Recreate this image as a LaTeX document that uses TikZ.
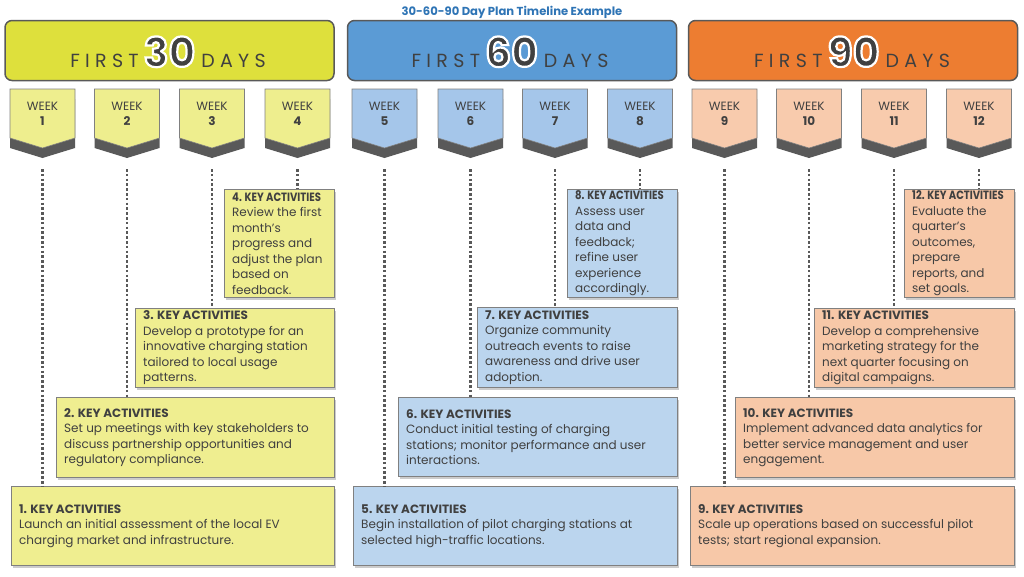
\documentclass[tikz,border=0pt]{standalone}
\usepackage{fontspec}
\setmainfont{Poppins}
\usetikzlibrary{shadows}
\definecolor{hdY}{HTML}{DEE03C}
\definecolor{tabY}{HTML}{EEEE8E}
\definecolor{boxY}{HTML}{EFEE90}
\definecolor{hdB}{HTML}{5B9BD5}
\definecolor{tabB}{HTML}{A5C6EA}
\definecolor{boxB}{HTML}{BBD5EE}
\definecolor{hdO}{HTML}{ED7D31}
\definecolor{tabO}{HTML}{F8CBAD}
\definecolor{boxO}{HTML}{F7C8A8}
\definecolor{darkg}{HTML}{595959}
\definecolor{txt}{HTML}{404040}
\definecolor{ttl}{HTML}{2E74B5}
\newcommand{\outlined}[1]{\special{pdf:literal direct 2 Tr 2.2 w 1 1 1 RG}#1\special{pdf:literal direct 0 Tr}}
\newcommand{\hdtext}[1]{{\fontsize{19}{19}\selectfont\addfontfeature{LetterSpace=28}FIRST}\hspace{5pt}{\fontsize{41}{41}\selectfont\bfseries\outlined{#1}}\hspace{6pt}{\fontsize{19}{19}\selectfont\addfontfeature{LetterSpace=28}DAYS}}
\tikzset{
  hdr/.style={draw=darkg,line width=1.5pt,rounded corners=7pt,minimum width=329pt,minimum height=60pt},
  hdtxt/.style={anchor=base,text=txt,inner sep=0pt},
  tabx/.style={draw=gray,line width=0.6pt},
  wk/.style={font=\fontsize{12}{15}\selectfont,text=txt,align=center},
  bx/.style={draw=gray,line width=0.8pt,anchor=north west,inner sep=0pt,
    drop shadow={shadow xshift=2pt,shadow yshift=-2.5pt,opacity=0.4}},
  tx/.style={anchor=west,align=left,text=txt,inner sep=0pt,font=\fontsize{12}{15.5}\selectfont},
  dotline/.style={draw=darkg,line width=2.6pt,dash pattern=on 2.5pt off 2.3pt}
}
\begin{document}
\begin{tikzpicture}[x=1pt,y=-1pt]
\useasboundingbox (0,0) rectangle (1024,576);
\node[font=\bfseries\fontsize{11.6}{14}\selectfont,text=ttl] (title) at (512,12) {30-60-90 Day Plan Timeline Example};
\node[hdr,fill=hdY] (hd30) at (169.5,50.5) {};
\node[hdr,fill=hdB] (hd60) at (512,50.5) {};
\node[hdr,fill=hdO] (hd90) at (853,50.5) {};
\node[hdtxt] (ht30) at (168,67) {\hdtext{30}};
\node[hdtxt] (ht60) at (510,67) {\hdtext{60}};
\node[hdtxt] (ht90) at (852,67) {\hdtext{90}};
\foreach \n/\cx/\fc in {1/42.5/tabY,2/127/tabY,3/212/tabY,4/297.5/tabY,5/384.5/tabB,6/470.5/tabB,7/555/tabB,8/640/tabB,9/724.5/tabO,10/809/tabO,11/894/tabO,12/979/tabO}{
  \fill[darkg] (\cx-32.5,99) -- (\cx+32.5,99) -- (\cx+32.5,148) -- (\cx,158) -- (\cx-32.5,148) -- cycle;
  \draw[tabx,fill=\fc] (\cx-32.5,89) -- (\cx+32.5,89) -- (\cx+32.5,138) -- (\cx,148) -- (\cx-32.5,138) -- cycle;
  \node[wk] (wk\n) at (\cx,113.5) {WEEK\\\textbf{\n}};
  \coordinate (tip\n) at (\cx,169);
}
% first 30 days
\node[bx,fill=boxY,minimum width=323pt,minimum height=79pt] (bx1) at (11,486) {};
\node[bx,fill=boxY,minimum width=278pt,minimum height=80pt] (bx2) at (56,397) {};
\node[bx,fill=boxY,minimum width=199pt,minimum height=79pt] (bx3) at (135,308) {};
\node[bx,fill=boxY,minimum width=110pt,minimum height=108pt] (bx4) at (224,189) {};
\node[tx] (tx1) at ([xshift=8pt]bx1.west) {\textbf{1. KEY ACTIVITIES}\\Launch an initial assessment of the local EV\\charging market and infrastructure.};
\node[tx] (tx2) at ([xshift=8pt]bx2.west) {\textbf{2. KEY ACTIVITIES}\\Set up meetings with key stakeholders to\\discuss partnership opportunities and\\regulatory compliance.};
\node[tx] (tx3) at ([xshift=8pt]bx3.west) {\textbf{3. KEY ACTIVITIES}\\Develop a prototype for an\\innovative charging station\\tailored to local usage\\patterns.};
\node[tx] (tx4) at ([xshift=8pt]bx4.west) {\scalebox{0.84}[1]{\textbf{4. KEY ACTIVITIES}}\\Review the first\\month’s\\progress and\\adjust the plan\\based on\\feedback.};
% first 60 days
\node[bx,fill=boxB,minimum width=324pt,minimum height=79pt] (bx5) at (353,486) {};
\node[bx,fill=boxB,minimum width=279pt,minimum height=79pt] (bx6) at (398,397) {};
\node[bx,fill=boxB,minimum width=200pt,minimum height=80pt] (bx7) at (477,307) {};
\node[bx,fill=boxB,minimum width=110pt,minimum height=108pt] (bx8) at (567,189) {};
\node[tx] (tx5) at ([xshift=8pt]bx5.west) {\textbf{5. KEY ACTIVITIES}\\Begin installation of pilot charging stations at\\selected high-traffic locations.};
\node[tx] (tx6) at ([xshift=8pt]bx6.west) {\textbf{6. KEY ACTIVITIES}\\Conduct initial testing of charging\\stations; monitor performance and user\\interactions.};
\node[tx] (tx7) at ([xshift=8pt]bx7.west) {\textbf{7. KEY ACTIVITIES}\\Organize community\\outreach events to raise\\awareness and drive user\\adoption.};
\node[tx] (tx8) at ([xshift=8pt]bx8.west) {\scalebox{0.84}[1]{\textbf{8. KEY ACTIVITIES}}\\Assess user\\data and\\feedback;\\refine user\\experience\\accordingly.};
% first 90 days
\node[bx,fill=boxO,minimum width=324pt,minimum height=79pt] (bx9) at (690,486) {};
\node[bx,fill=boxO,minimum width=279pt,minimum height=80pt] (bx10) at (735,397) {};
\node[bx,fill=boxO,minimum width=200pt,minimum height=79pt] (bx11) at (814,308) {};
\node[bx,fill=boxO,minimum width=110pt,minimum height=108pt] (bx12) at (904,189) {};
\node[tx] (tx9) at ([xshift=8pt]bx9.west) {\textbf{9. KEY ACTIVITIES}\\Scale up operations based on successful pilot\\tests; start regional expansion.};
\node[tx] (tx10) at ([xshift=8pt]bx10.west) {\textbf{10. KEY ACTIVITIES}\\Implement advanced data analytics for\\better service management and user\\engagement.};
\node[tx] (tx11) at ([xshift=8pt]bx11.west) {\textbf{11. KEY ACTIVITIES}\\Develop a comprehensive\\marketing strategy for the\\next quarter focusing on\\digital campaigns.};
\node[tx] (tx12) at ([xshift=8pt]bx12.west) {\scalebox{0.84}[1]{\textbf{12. KEY ACTIVITIES}}\\Evaluate the\\quarter's\\outcomes,\\prepare\\reports, and\\set goals.};
\foreach \n in {1,...,12}
  \draw[dotline] (tip\n) -- (tip\n |- bx\n.north);
\end{tikzpicture}
\end{document}
